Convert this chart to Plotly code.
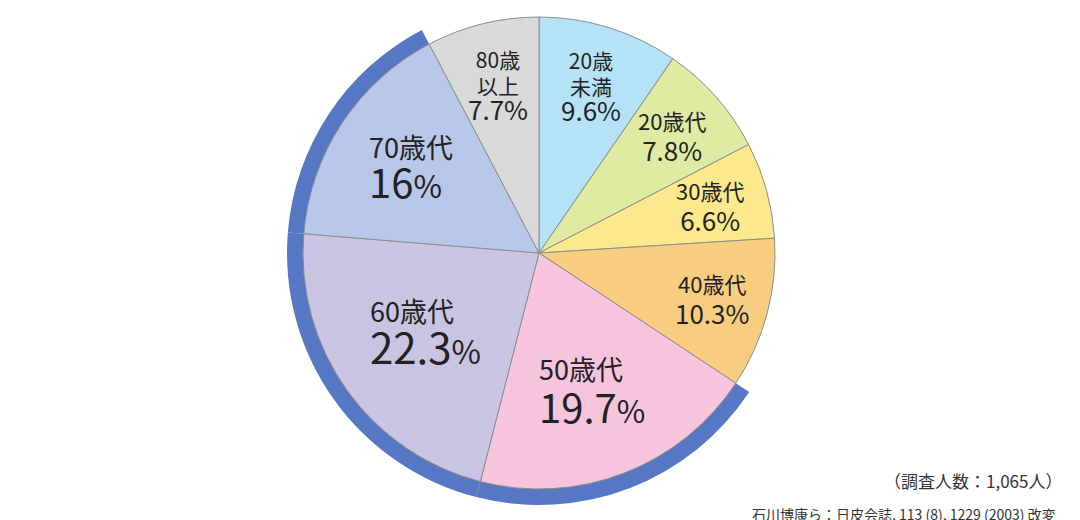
import math
import plotly.graph_objects as go

# 年代別の割合（調査人数：1,065人）
labels = ['20歳未満', '20歳代', '30歳代', '40歳代', '50歳代', '60歳代', '70歳代', '80歳以上']
name_lines = ['20歳<br>未満', '20歳代', '30歳代', '40歳代', '50歳代', '60歳代', '70歳代', '80歳<br>以上']
values = [9.6, 7.8, 6.6, 10.3, 19.7, 22.3, 16, 7.7]
pct_text = ['9.6', '7.8', '6.6', '10.3', '19.7', '22.3', '16', '7.7']
highlight = ['50歳代', '60歳代', '70歳代']

colors = ['#b6e2f7', '#dfeba2', '#fde98d', '#f8cd80', '#f7c4de', '#cac4e3', '#b8c7e9', '#d9d9d9']
arc_color = '#5678c4'

W, H = 1080, 520
cx, cy = 539, 267        # 円の中心（px、下から）
r_pie, r_arc = 236, 252

def dom(r):
    return dict(x=[(cx - r) / W, (cx + r) / W], y=[(cy - r) / H, (cy + r) / H])

fig = go.Figure()

# 50歳以上の帯
fig.add_trace(go.Pie(
    labels=labels, values=values, sort=False, direction='clockwise', rotation=0,
    hole=r_pie / r_arc - 0.004, domain=dom(r_arc),
    marker=dict(colors=[arc_color if l in highlight else 'rgba(0,0,0,0)' for l in labels],
                line=dict(width=0)),
    textinfo='none', hoverinfo='skip', showlegend=False,
))

fig.add_trace(go.Pie(
    labels=labels, values=values, sort=False, direction='clockwise', rotation=0,
    domain=dom(r_pie),
    marker=dict(colors=colors, line=dict(color='#8c8c8c', width=1)),
    textinfo='none', showlegend=False,
))

# ラベル（中心角から位置を計算）
label_r = [0.74, 0.75, 0.75, 0.76, 0.63, 0.59, 0.65, 0.73]
name_size = [21, 22, 22, 22, 27, 27, 27, 21]
pct_size = [26, 26, 26, 26, 40, 42, 40, 26]
line_size = [20, 24, 24, 24, 33, 32, 31, 20]
big = [False, False, False, False, True, True, True, False]

total = sum(values)
cum = 0
for i, v in enumerate(values):
    mid = (cum + v / 2) / total * 2 * math.pi
    cum += v
    x = cx + label_r[i] * r_pie * math.sin(mid)
    y = cy + label_r[i] * r_pie * math.cos(mid)
    pct_sign = int(pct_size[i] * 0.78) if big[i] else pct_size[i]
    txt = ("<span style='font-size:%dpx'>%s</span><br>"
           "<span style='font-size:%dpx'>%s</span><span style='font-size:%dpx'>%%</span>"
           % (name_size[i], name_lines[i], pct_size[i], pct_text[i], pct_sign))
    fig.add_annotation(x=x / W, y=y / H, xref='paper', yref='paper', text=txt,
                       xanchor='center', yanchor='middle',
                       showarrow=False, align='left' if big[i] else 'center',
                       font=dict(family='Noto Sans CJK JP', size=line_size[i], color='#222222'))

fig.add_annotation(x=1064 / W, y=40 / H, xref='paper', yref='paper',
                   xanchor='right', yanchor='middle',
                   text='（調査人数：1,065人）', showarrow=False,
                   font=dict(family='Noto Sans CJK JP', size=17, color='#333333'))
fig.add_annotation(x=1058 / W, y=6 / H, xref='paper', yref='paper',
                   xanchor='right', yanchor='middle',
                   text='石川博康ら：日皮会誌, 113 (8), 1229 (2003) 改変', showarrow=False,
                   font=dict(family='Noto Sans CJK JP', size=14, color='#333333'))

fig.update_layout(width=W, height=H, margin=dict(l=0, r=0, t=0, b=0),
                  paper_bgcolor='white', plot_bgcolor='white')

# ページ余白をなくして図を左上に合わせる
fig.write_html("out.html", config={'displayModeBar': False},
               post_script="document.body.style.margin='0px';")
